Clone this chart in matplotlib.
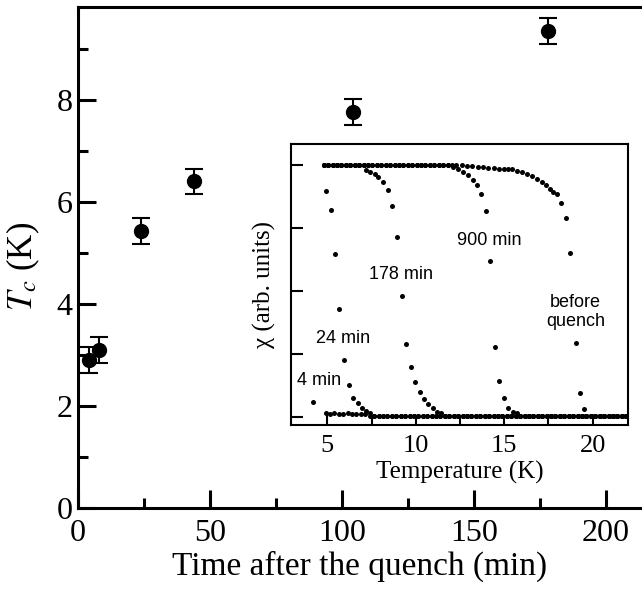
import matplotlib.pyplot as plt

plt.rcParams['font.family'] = ['Liberation Serif', 'DejaVu Serif']
plt.rcParams['mathtext.fontset'] = 'stix'

# main panel: Tc against time after the quench
time_min = [4, 8, 24, 44, 104, 178]
tc_K = [2.9, 3.1, 5.43, 6.4, 7.76, 9.35]
tc_err = [0.25, 0.25, 0.25, 0.25, 0.25, 0.25]

# inset: chi(T) sweeps
# flat parts (full screening / normal state), temperatures of the dots
plateau_T = [4.8, 5.05, 5.3, 5.55, 5.8, 6.05, 6.3, 6.55, 6.8, 7.05, 7.3, 7.55,
             7.8, 8.05, 8.3, 8.55, 8.8, 9.05, 9.3, 9.55, 9.8, 10.05, 10.3,
             10.55, 10.8, 11.05, 11.3, 11.55, 11.8, 12.05, 12.3]
plateau_chi = 1.0
baseline_T = [4.9, 5.15, 5.4, 5.65, 5.9, 6.15, 6.4, 6.65, 6.9, 7.15, 7.4, 7.65,
              7.9, 8.15, 8.4, 8.65, 8.9, 9.15, 9.4, 9.65, 9.9, 10.15, 10.4,
              10.65, 10.9, 11.15, 11.4, 11.65, 11.9, 12.15, 12.4, 12.65, 12.9,
              13.15, 13.4, 13.65, 13.9, 14.15, 14.4, 14.65, 14.9, 15.15, 15.4,
              15.65, 15.9, 16.15, 16.4, 16.65, 16.9, 17.15, 17.4, 17.65, 17.9,
              18.15, 18.4, 18.65, 18.9, 19.15, 19.4, 19.65, 19.9, 20.15, 20.4,
              20.65, 20.9, 21.15, 21.4, 21.65, 21.9]
baseline_chi = 0.005

# transition parts of each sweep
chi4_T = [4.18, 4.9, 5.15, 5.4, 5.65, 5.9, 6.15, 6.4, 6.65, 6.9, 7.15]
chi4 = [0.06, 0.014, 0.013, 0.014, 0.013, 0.013, 0.014, 0.013, 0.012, 0.012, 0.011]
chi24_T = [4.92, 5.2, 5.42, 5.65, 5.93, 6.21, 6.44, 6.72, 6.95, 7.18, 7.4]
chi24 = [0.897, 0.82, 0.647, 0.43, 0.226, 0.127, 0.075, 0.056, 0.036, 0.024, 0.016]
chi178_T = [7.18, 7.40, 7.68, 7.85, 8.14, 8.42, 8.64, 8.93, 9.21, 9.44, 9.72,
            9.94, 10.23, 10.45, 10.68, 10.96, 11.19, 11.41]
chi178 = [0.98, 0.972, 0.964, 0.952, 0.933, 0.90, 0.837, 0.714, 0.48, 0.29,
          0.198, 0.139, 0.099, 0.071, 0.052, 0.036, 0.02, 0.016]
chi900_T = [12.09, 12.37, 12.66, 12.94, 13.22, 13.45, 13.67, 13.95, 14.18,
            14.46, 14.69, 14.97, 15.2, 15.48, 15.7]
chi900 = [0.992, 0.984, 0.972, 0.96, 0.94, 0.921, 0.885, 0.817, 0.619, 0.278,
          0.143, 0.075, 0.036, 0.02, 0.016]
chibq_T = [12.6, 12.9, 13.2, 13.5, 13.8, 14.1, 14.4, 14.7, 15.0, 15.2, 15.42,
           15.7, 15.98, 16.27, 16.55, 16.84, 17.12, 17.34, 17.57, 17.74, 17.97,
           18.2, 18.47, 18.7, 19.04, 19.27, 19.49]
chibq = [0.998, 0.996, 0.995, 0.993, 0.991, 0.989, 0.987, 0.985, 0.984, 0.984,
         0.984, 0.976, 0.972, 0.964, 0.956, 0.944, 0.933, 0.921, 0.905, 0.893,
         0.885, 0.849, 0.79, 0.651, 0.294, 0.095, 0.032]


def sweep(tr_T, tr_chi, with_plateau):
    pT = [t for t in plateau_T if t < tr_T[0] - 0.1] if with_plateau else []
    bT = [t for t in baseline_T if t > tr_T[-1] + 0.1]
    T = pT + tr_T + bT
    chi = [plateau_chi] * len(pT) + tr_chi + [baseline_chi] * len(bT)
    return T, chi


fig = plt.figure(figsize=(6.42, 5.89), dpi=100)
ax = fig.add_axes([0.1215, 0.1375, 0.8785, 0.8506])

ax.errorbar(time_min, tc_K, yerr=tc_err, fmt='o', color='black', ms=10,
            capsize=6.5, elinewidth=1.5, capthick=1.5)
ax.set_xlim(0, 213.6)
ax.set_ylim(0, 9.82)
ax.set_xticks([0, 50, 100, 150, 200])
ax.set_xticks([25, 75, 125, 175], minor=True)
ax.set_yticks([0, 2, 4, 6, 8])
ax.set_yticks([1, 3, 5, 7, 9], minor=True)
ax.tick_params(which='major', direction='in', length=13, width=2.2, labelsize=23)
ax.tick_params(which='minor', direction='in', length=7, width=2.2)
ax.tick_params(axis='x', pad=8)
ax.tick_params(axis='y', pad=4)
for s in ['left', 'bottom', 'top']:
    ax.spines[s].set_linewidth(2.2)
ax.spines['right'].set_visible(False)
ax.set_xlabel('Time after the quench (min)', fontsize=24, labelpad=2)
ax.set_ylabel(r'$T_c$ (K)', fontsize=25)
ax.yaxis.set_label_coords(-0.064, 0.482)

# inset
ax_in = fig.add_axes([0.4533, 0.2784, 0.5249, 0.4771])
for T, chi, pl in [(chi4_T, chi4, False), (chi24_T, chi24, False),
                   (chi178_T, chi178, True), (chi900_T, chi900, True),
                   (chibq_T, chibq, True)]:
    xs, ys = sweep(T, chi, pl)
    ax_in.plot(xs, ys, 'o', color='black', ms=3.6, mew=0)

ax_in.set_xlim(2.95, 22)
ax_in.set_ylim(-0.032, 1.083)
ax_in.set_xticks([5, 10, 15, 20])
ax_in.set_xticks([7.5, 12.5, 17.5], minor=True)
ax_in.set_yticks([0, 0.25, 0.5, 0.75, 1.0])
ax_in.set_yticklabels([])
ax_in.tick_params(axis='x', which='major', direction='in', length=7, width=1.5,
                  labelsize=19, pad=7)
ax_in.tick_params(axis='x', which='minor', direction='in', length=5, width=1.5)
ax_in.tick_params(axis='y', direction='in', length=8.5, width=1.5)
for s in ax_in.spines.values():
    s.set_linewidth(1.5)
ax_in.set_xlabel('Temperature (K)', fontsize=18, labelpad=3)
ax_in.set_ylabel('χ (arb. units)', fontsize=18)
ax_in.yaxis.set_label_coords(-0.045, 0.5)

sans = 'Liberation Sans'
ax_in.text(3.28, 0.143, '4 min', family=sans, fontsize=13, va='center')
ax_in.text(4.35, 0.31, '24 min', family=sans, fontsize=13, va='center')
ax_in.text(7.34, 0.567, '178 min', family=sans, fontsize=13, va='center')
ax_in.text(12.32, 0.70, '900 min', family=sans, fontsize=13, va='center')
ax_in.text(19.04, 0.417, 'before\nquench', family=sans, fontsize=13,
           va='center', ha='center', linespacing=1.1)

fig.savefig('out.png', dpi=100)
